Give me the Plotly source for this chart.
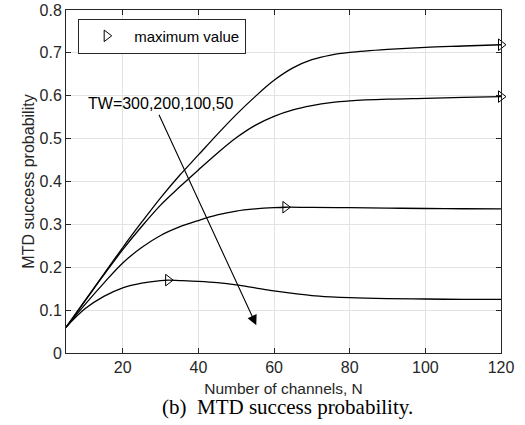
import plotly.graph_objects as go

# ---- data ----
x_tw300 = [5, 10, 15, 20, 25, 30, 35, 40, 45, 50, 55, 60, 65, 70, 75, 80, 90, 100, 110, 120]
y_tw300 = [0.06, 0.122, 0.184, 0.246, 0.305, 0.362, 0.414, 0.462, 0.510, 0.556, 0.598, 0.636,
           0.665, 0.684, 0.695, 0.701, 0.708, 0.713, 0.716, 0.719]

x_tw200 = [5, 10, 15, 20, 25, 30, 35, 40, 45, 50, 55, 60, 65, 70, 75, 80, 90, 100, 110, 120]
y_tw200 = [0.06, 0.121, 0.182, 0.241, 0.295, 0.345, 0.387, 0.427, 0.466, 0.502, 0.531, 0.552,
           0.567, 0.577, 0.584, 0.588, 0.592, 0.594, 0.596, 0.598]

x_tw100 = [5, 10, 15, 20, 25, 30, 35, 40, 45, 50, 55, 60, 63, 70, 80, 90, 100, 110, 120]
y_tw100 = [0.06, 0.113, 0.163, 0.210, 0.246, 0.274, 0.294, 0.309, 0.322, 0.331, 0.336, 0.339,
           0.340, 0.3395, 0.339, 0.338, 0.337, 0.3365, 0.336]

x_tw50 = [5, 10, 15, 20, 25, 30, 32, 35, 40, 45, 50, 55, 60, 65, 70, 75, 80, 90, 100, 110, 120]
y_tw50 = [0.06, 0.103, 0.132, 0.152, 0.163, 0.169, 0.170, 0.169, 0.167, 0.164, 0.159, 0.152,
          0.145, 0.139, 0.134, 0.131, 0.129, 0.127, 0.126, 0.125, 0.125]

max_x = [120, 120, 63, 32]
max_y = [0.719, 0.598, 0.340, 0.170]

x_ticks = [20, 40, 60, 80, 100, 120]
y_ticks = [0, 0.1, 0.2, 0.3, 0.4, 0.5, 0.6, 0.7, 0.8]
y_tick_labels = ["0", "0.1", "0.2", "0.3", "0.4", "0.5", "0.6", "0.7", "0.8"]

curves = [(x_tw300, y_tw300), (x_tw200, y_tw200), (x_tw100, y_tw100), (x_tw50, y_tw50)]

FONT = "Liberation Sans, Arial, sans-serif"

fig = go.Figure()
for xs, ys in curves:
    fig.add_trace(go.Scatter(x=xs, y=ys, mode="lines", line=dict(color="black", width=1.3, shape="spline"),
                             showlegend=False, hoverinfo="skip"))

fig.add_trace(go.Scatter(x=max_x, y=max_y, mode="markers", name="maximum value",
                         marker=dict(symbol="triangle-right-open", size=10, color="black",
                                     line=dict(width=1, color="black")),
                         cliponaxis=False))

fig.add_annotation(x=55.3, y=0.065, ax=29.4, ay=0.559, xref="x", yref="y", axref="x", ayref="y",
                   showarrow=True, arrowhead=2, arrowsize=1.8, arrowwidth=1.1, arrowcolor="black", text="")
fig.add_annotation(x=30.1, y=0.583, xref="x", yref="y",
                   text="TW=300,200,100,50", showarrow=False,
                   font=dict(family=FONT, size=16, color="black"))

fig.add_annotation(x=0.51, y=-0.158, xref="paper", yref="paper", xanchor="center", yanchor="middle",
                   text="(b)  MTD success probability.", showarrow=False,
                   font=dict(family="Liberation Serif, Times New Roman, serif", size=21, color="black"))

axis_common = dict(showline=True, linecolor="#262626", linewidth=1, mirror="ticks",
                   ticks="inside", ticklen=5, tickcolor="#262626", automargin=False,
                   showgrid=True, gridcolor="#e3e3e3", gridwidth=1, zeroline=False,
                   tickfont=dict(family=FONT, size=16, color="#262626"))

fig.update_xaxes(range=[5, 120], tickvals=x_ticks,
                 title=dict(text="Number of channels, N", font=dict(family=FONT, size=15.5, color="#262626"),
                            standoff=7),
                 **axis_common)
fig.update_yaxes(range=[0, 0.8], tickvals=y_ticks, ticktext=y_tick_labels,
                 title=dict(text="MTD success probability", font=dict(family=FONT, size=16, color="#262626"),
                            standoff=0),
                 **axis_common)

fig.update_layout(
    width=525, height=425,
    margin=dict(l=66, r=24, t=10, b=72),
    plot_bgcolor="white", paper_bgcolor="white",
    legend=dict(x=0.028, y=0.975, xanchor="left", yanchor="top",
                bgcolor="white", bordercolor="#262626", borderwidth=1,
                font=dict(family=FONT, size=15, color="black"),
                itemwidth=45, tracegroupgap=0),
)

fig.write_html("out.html")
